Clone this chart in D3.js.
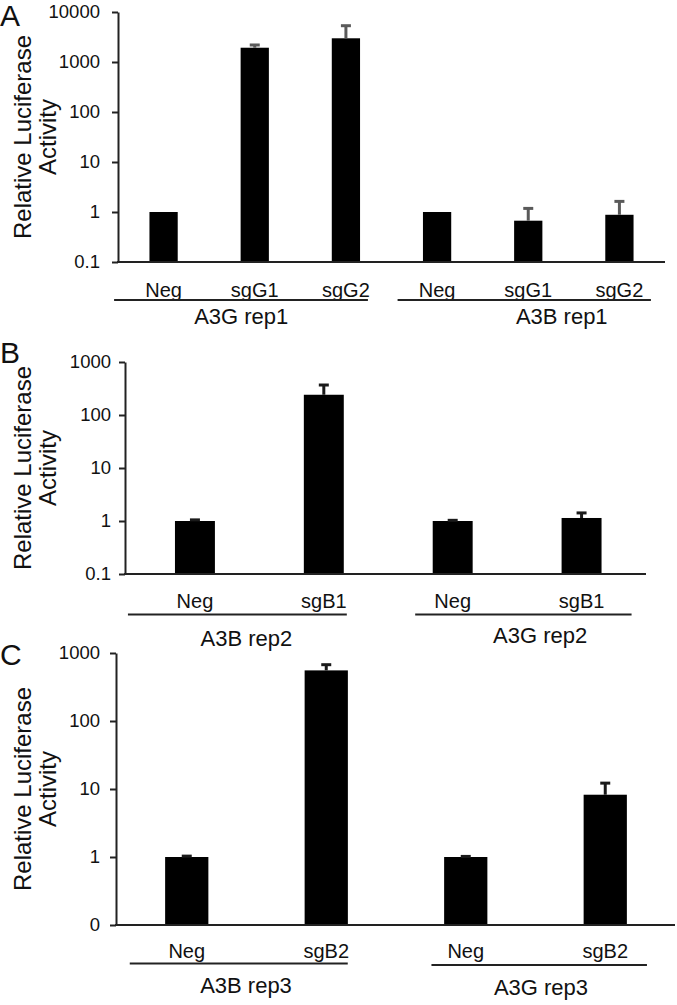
<!DOCTYPE html>
<html>
<head>
<meta charset="utf-8">
<script src="https://cdn.jsdelivr.net/npm/d3@7"></script>
<style>
  html, body { margin: 0; padding: 0; background: #fff; }
  svg text { font-family: "Liberation Sans", Arial, Helvetica, sans-serif; fill: #111; }
</style>
</head>
<body>
<svg id="chart" width="677" height="1005"></svg>
<script>
// ---------------- DATA ----------------
const catsA = ["Neg", "sgG1", "sgG2", "Neg", "sgG1", "sgG2"];
const valsA = [1, 1930, 2980, 1, 0.67, 0.88];
const errsA = [0, 260, 2340, 0, 0.51, 0.75];
const groupsA = ["A3G rep1", "A3B rep1"];
const groupSpansA = [[0, 2], [3, 5]];
const tickValsA = [0.1, 1, 10, 100, 1000, 10000];
const tickLabelsA = ["0.1", "1", "10", "100", "1000", "10000"];

const catsB = ["Neg", "sgB1", "Neg", "sgB1"];
const valsB = [1.0, 241, 1.0, 1.14];
const errsB = [0.05, 127, 0.03, 0.28];
const groupsB = ["A3B rep2", "A3G rep2"];
const groupSpansB = [[0, 1], [2, 3]];
const tickValsB = [0.1, 1, 10, 100, 1000];
const tickLabelsB = ["0.1", "1", "10", "100", "1000"];

const catsC = ["Neg", "sgB2", "Neg", "sgB2"];
const valsC = [1.0, 555, 1.0, 8.24];
const errsC = [0.03, 118, 0.02, 3.96];
const groupsC = ["A3B rep3", "A3G rep3"];
const groupSpansC = [[0, 1], [2, 3]];
const tickValsC = [0.1, 1, 10, 100, 1000];
const tickLabelsC = ["0", "1", "10", "100", "1000"];

const yTitle = ["Relative Luciferase", "Activity"];

// ---------------- LAYOUT ----------------
const panels = [
  { letter: "A", cats: catsA, vals: valsA, errs: errsA, groups: groupsA, spans: groupSpansA,
    ticks: tickValsA, tickLabels: tickLabelsA,
    layout: { axisX: 118, x0: 118, x1: 665, yTop: 12, yBottom: 262, tickPad: 12, catY: 297,
      lines: [{ y: 300, l: -49.5, r: 22 }, { y: 300, l: -39.5, r: 31.5 }],
      labels: [{ dx: -13.5, y: 324 }, { dx: 33.5, y: 324 }],
      letterY: 26, errColor: "#5a5a5a" } },
  { letter: "B", cats: catsB, vals: valsB, errs: errsB, groups: groupsB, spans: groupSpansB,
    ticks: tickValsB, tickLabels: tickLabelsB,
    layout: { axisX: 125, x0: 130.5, x1: 646, yTop: 362, yBottom: 574, tickPad: 8, catY: 608,
      lines: [{ y: 614.5, l: -67, r: 23 }, { y: 614.5, l: -37.5, r: 50 }],
      labels: [{ dx: -13, y: 646 }, { dx: 23, y: 643 }],
      letterY: 363, errColor: "#1a1a1a" } },
  { letter: "C", cats: catsC, vals: valsC, errs: errsC, groups: groupsC, spans: groupSpansC,
    ticks: tickValsC, tickLabels: tickLabelsC,
    layout: { axisX: 116, x0: 117, x1: 675, yTop: 653, yBottom: 925, tickPad: 10, catY: 958,
      lines: [{ y: 963.5, l: -57, r: 21.5 }, { y: 965, l: -34.3, r: 41.7 }],
      labels: [{ dx: -10.5, y: 993 }, { dx: 5.5, y: 995 }],
      letterY: 665, errColor: "#1a1a1a" } }
];

const svg = d3.select("#chart");
const axisColor = "#222";

panels.forEach(p => {
  const L = p.layout;
  const g = svg.append("g");
  const x = d3.scaleBand().domain(d3.range(p.cats.length))
    .range([L.x0, L.x1]).paddingInner(0.69).paddingOuter(0.345);
  const y = d3.scaleLog().domain([p.ticks[0], p.ticks[p.ticks.length - 1]])
    .range([L.yBottom, L.yTop]);
  const cx = i => x(i) + x.bandwidth() / 2;
  const base = y(p.ticks[0]);

  // bars
  g.selectAll("rect.bar").data(p.vals).join("rect")
    .attr("class", "bar")
    .attr("x", (d, i) => x(i))
    .attr("width", x.bandwidth())
    .attr("y", d => y(d))
    .attr("height", d => base - y(d))
    .attr("fill", "#000");

  // error bars
  const eg = g.append("g").attr("stroke", L.errColor).attr("stroke-width", 3);
  p.vals.forEach((v, i) => {
    const e = p.errs[i];
    if (!e) return;
    const yt = y(v + e);
    eg.append("line").attr("x1", cx(i)).attr("x2", cx(i)).attr("y1", y(v)).attr("y2", yt);
    eg.append("line").attr("x1", cx(i) - 5).attr("x2", cx(i) + 5).attr("y1", yt).attr("y2", yt);
  });

  // y axis
  const ax = d3.axisLeft(y).tickValues(p.ticks)
    .tickFormat((d, i) => p.tickLabels[i])
    .tickSize(6).tickPadding(L.tickPad).tickSizeOuter(0);
  const ag = g.append("g").attr("transform", `translate(${L.axisX},0)`).call(ax);
  ag.select(".domain").attr("stroke", axisColor).attr("stroke-width", 2);
  ag.selectAll(".tick line").attr("stroke", axisColor).attr("stroke-width", 2);
  ag.selectAll(".tick text").attr("font-size", 18.5).attr("fill", "#111")
    .style("font-family", '"Liberation Sans", Arial, sans-serif');

  // x axis baseline
  g.append("line").attr("x1", L.axisX - 1).attr("x2", x.range()[1])
    .attr("y1", base).attr("y2", base)
    .attr("stroke", axisColor).attr("stroke-width", 2);

  // category labels
  g.selectAll("text.cat").data(p.cats).join("text")
    .attr("class", "cat")
    .attr("x", (d, i) => cx(i)).attr("y", L.catY)
    .attr("text-anchor", "middle").attr("font-size", 20)
    .text(d => d);

  // group lines + labels
  p.groups.forEach((gl, k) => {
    const [a, b] = p.spans[k];
    const ln = L.lines[k];
    g.append("line")
      .attr("x1", cx(a) + ln.l).attr("x2", cx(b) + ln.r)
      .attr("y1", ln.y).attr("y2", ln.y)
      .attr("stroke", axisColor).attr("stroke-width", 1.8);
    const lb = L.labels[k];
    g.append("text")
      .attr("x", (cx(a) + cx(b)) / 2 + lb.dx).attr("y", lb.y)
      .attr("text-anchor", "middle").attr("font-size", 22)
      .text(gl);
  });

  // y title
  const midY = (L.yTop + L.yBottom) / 2;
  [31, 56].forEach((bx, k) => {
    g.append("text")
      .attr("transform", `translate(${bx},${midY}) rotate(-90)`)
      .attr("text-anchor", "middle").attr("font-size", 24)
      .text(yTitle[k]);
  });

  // panel letter
  g.append("text").attr("x", 0).attr("y", L.letterY)
    .attr("font-size", 30).text(p.letter);
});
</script>
</body>
</html>
